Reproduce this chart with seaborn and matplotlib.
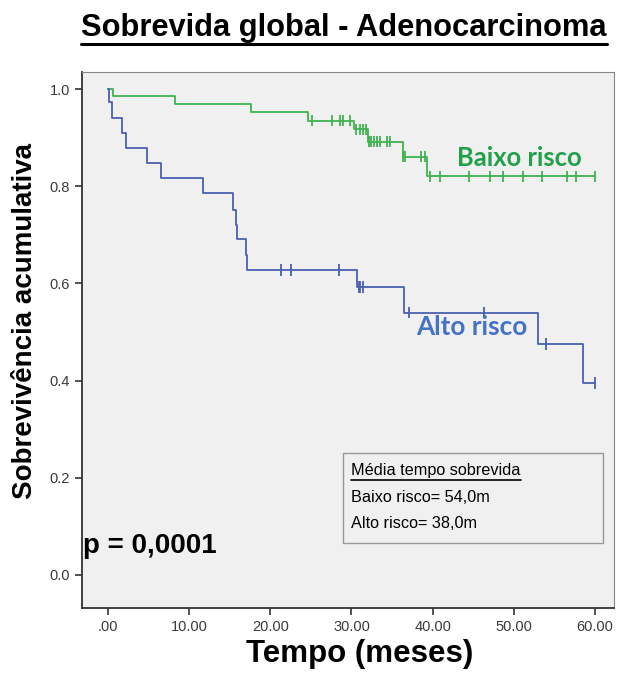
import numpy as np
import pandas as pd
import matplotlib
matplotlib.use("Agg")
import matplotlib.pyplot as plt
import seaborn as sns
from matplotlib.lines import Line2D

sns.set_theme(style="white")
plt.rcParams['font.family'] = ['Liberation Sans', 'DejaVu Sans']
plt.rcParams['text.color'] = 'black'

# Baixo risco: tempos dos eventos e sobrevida após cada degrau
baixo_t = [0.0, 0.6, 8.3, 17.6, 24.7, 30.3, 32.0, 36.3, 39.3, 60.0]
baixo_s = [1.0, 0.986, 0.969, 0.953, 0.935, 0.917, 0.892, 0.861, 0.820, 0.820]
baixo_cens = [25.2, 27.6, 28.6, 28.9, 29.8, 30.6, 31.0, 31.4, 31.8, 32.2,
              32.4, 32.8, 33.2, 33.5, 34.4, 34.8, 36.3, 36.6, 38.6, 39.0,
              39.7, 40.9, 44.5, 47.0, 48.7, 51.1, 53.5, 56.5, 57.7, 60.0]

# Alto risco
alto_t = [0.0, 0.2, 0.5, 1.8, 2.2, 4.8, 6.5, 11.7, 15.4, 15.8, 15.9, 17.0, 17.1,
          30.7, 36.5, 53.0, 58.5, 60.0]
alto_s = [1.0, 0.973, 0.94, 0.910, 0.878, 0.847, 0.816, 0.785, 0.752, 0.720,
          0.691, 0.658, 0.627, 0.592, 0.540, 0.475, 0.395, 0.395]
alto_cens = [21.3, 22.5, 28.5, 30.9, 31.1, 31.4, 37.1, 46.3, 53.9, 60.0]

verde = "#3fb24f"
azul = "#4a5fb0"

def nivel(tempos, sobrev, t):
    i = np.searchsorted(tempos, t, side="right") - 1
    return sobrev[i]

curvas = pd.DataFrame({
    "tempo": baixo_t + alto_t,
    "sobrev": baixo_s + alto_s,
    "grupo": ["Baixo risco"] * len(baixo_t) + ["Alto risco"] * len(alto_t),
})
cens = pd.DataFrame({
    "tempo": baixo_cens + alto_cens,
    "sobrev": [nivel(baixo_t, baixo_s, t) for t in baixo_cens]
              + [nivel(alto_t, alto_s, t) for t in alto_cens],
    "grupo": ["Baixo risco"] * len(baixo_cens) + ["Alto risco"] * len(alto_cens),
})
paleta = {"Baixo risco": verde, "Alto risco": azul}

fig = plt.figure(figsize=(6.2, 6.75), dpi=100)
ax = fig.add_axes([0.132, 0.0993, 0.858, 0.794])
ax.set_facecolor("#f0f0f0")

sns.lineplot(data=curvas, x="tempo", y="sobrev", hue="grupo", palette=paleta,
             estimator=None, sort=False, drawstyle="steps-post", linewidth=1.3,
             legend=False, ax=ax)
sns.scatterplot(data=cens, x="tempo", y="sobrev", hue="grupo", palette=paleta,
                marker="|", s=70, linewidth=1.3, legend=False, ax=ax)

ax.set_xlim(-3.2, 62.3)
ax.set_ylim(-0.068, 1.035)
ax.set_xticks([0, 10, 20, 30, 40, 50, 60])
ax.set_xticklabels([".00", "10.00", "20.00", "30.00", "40.00", "50.00", "60.00"])
ax.set_yticks([0.0, 0.2, 0.4, 0.6, 0.8, 1.0])
ax.set_yticklabels(["0.0", "0.2", "0.4", "0.6", "0.8", "1.0"])
ax.tick_params(axis="both", direction="out", length=5, width=1.2, color="#333333",
               labelsize=10.5, labelcolor="#3a3a3a", left=True, bottom=True)
for lado in ["left", "bottom"]:
    ax.spines[lado].set_color("#333333")
    ax.spines[lado].set_linewidth(1.3)
for lado in ["top", "right"]:
    ax.spines[lado].set_color("#888888")
    ax.spines[lado].set_linewidth(0.8)

ax.set_xlabel("Tempo (meses)", fontsize=22.5, fontweight="bold", color="black")
ax.xaxis.set_label_coords(0.523, -0.058)
ax.set_ylabel("Sobrevivência acumulativa", fontsize=20, fontweight="bold", color="black")
ax.yaxis.set_label_coords(-0.082, 0.535)

ax.text(50.7, 0.858, "Baixo risco", color="#21a04a", fontsize=18.4, fontweight="bold",
        ha="center", va="center", family=["Lato", "DejaVu Sans"])
ax.text(44.8, 0.510, "Alto risco", color="#4472c4", fontsize=18.8, fontweight="bold",
        ha="center", va="center", family=["Lato", "DejaVu Sans"])
ax.text(-3.0, 0.06, "p = 0,0001", fontsize=20, fontweight="bold", ha="left", va="center")

# caixa com médias
caixa = plt.Rectangle((29.0, 0.065), 32.0, 0.185, facecolor="#f0f0f0",
                      edgecolor="#999999", linewidth=1.0)
ax.add_patch(caixa)
t_med = ax.text(30.0, 0.214, "Média tempo sobrevida", fontsize=11.7, ha="left", va="center")
ax.text(30.0, 0.160, "Baixo risco= 54,0m", fontsize=11.7, ha="left", va="center")
ax.text(30.0, 0.106, "Alto risco= 38,0m", fontsize=11.7, ha="left", va="center")

titulo = fig.text(0.555, 0.958, "Sobrevida global - Adenocarcinoma", fontsize=22.2,
                  fontweight="bold", ha="center", va="center")

# sublinhados
fig.canvas.draw()
r = fig.canvas.get_renderer()
for txt, off, lw in [(titulo, 1, 2.2), (t_med, 2, 1.2)]:
    bb = txt.get_window_extent(r)
    y = (bb.y0 - off) / fig.bbox.height
    fig.add_artist(Line2D([bb.x0 / fig.bbox.width, bb.x1 / fig.bbox.width], [y, y],
                          color="black", linewidth=lw))

fig.savefig("out.png", dpi=100)
